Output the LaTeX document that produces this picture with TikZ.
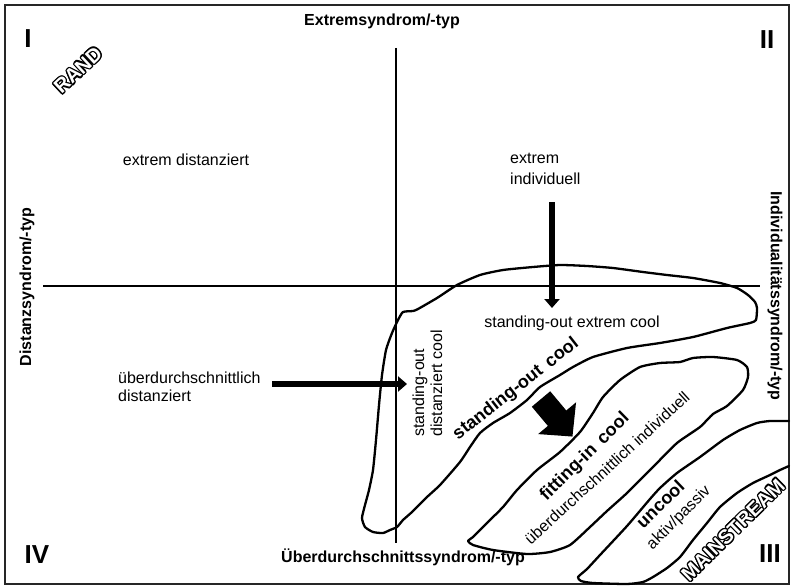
\documentclass[tikz,border=0pt]{standalone}
\usepackage{fontspec}
\setmainfont{Liberation Sans}
\usetikzlibrary{arrows.meta,calc}
\tikzset{
  axislabel/.style={font=\bfseries\fontsize{16}{18}\selectfont, inner sep=0pt},
  plaintext/.style={font=\fontsize{16}{18}\selectfont, inner sep=0pt},
  blobtitle/.style={font=\bfseries\fontsize{18}{20}\selectfont, inner sep=0pt},
  quadlabel/.style={font=\bfseries\fontsize{26}{28}\selectfont, inner sep=0pt},
  outl/.style={font=\bfseries\fontsize{20}{22}\selectfont, inner sep=0pt},
  axisline/.style={line width=1.6pt},
  blobline/.style={line width=2.3pt, line join=round, line cap=round},
  thinarrow/.style={line width=6.5pt, -{Triangle[length=9pt,width=15pt]}},
  fatarrow/.style={line width=24pt, -{Triangle[length=24pt,width=48pt]}},
}
\newcommand\outlinedtext[4]{%
  \foreach \oa in {0,30,...,330}{%
    \node[outl, rotate=#3] (#1c\oa) at ($(#2)+(\oa:1.3pt)$) {#4};
  }%
  \node[outl, rotate=#3, text=white] (#1) at (#2) {#4};
}
\begin{document}
\begin{tikzpicture}[x=1pt,y=-1pt]
\useasboundingbox (0,0) rectangle (792,586);
\draw[line width=2pt, black!85] (5,5) rectangle (789,584);

% axes
\coordinate (vtop) at (396,48);
\coordinate (vbot) at (396,543);
\coordinate (hleft) at (43,286);
\coordinate (hright) at (760,286);
\draw[axisline] (vtop) -- (vbot);
\draw[axisline] (hleft) -- (hright);

% axis labels
\node[axislabel] (ext) at (382,21) {Extremsyndrom/-typ};
\node[axislabel] (ueb) at (403,557) {Überdurchschnittssyndrom/-typ};
\node[axislabel, rotate=90] (dist) at (27,287) {Distanzsyndrom/-typ};
\node[axislabel, rotate=-90] (indiv) at (775,296) {Individualitätssyndrom/-typ};

% quadrant numbers
\node[quadlabel] (q1) at (28,39) {I};
\node[quadlabel] (q2) at (767,40) {II};
\node[quadlabel] (q3) at (770,554) {III};
\node[quadlabel] (q4) at (37,555) {IV};

% blobs
\draw[blobline] plot[smooth cycle, tension=0.35] coordinates {
 (403,312) (413,311) (418,309) (437,298) (457,285) (480,275) (503,270)
 (533,267) (560,265) (587,266) (613,268) (643,272) (667,275) (693,278)
 (720,283) (737,288) (748,295) (755,302) (757,308) (756,320) (750,323)
 (727,328) (693,337) (660,343) (627,348) (593,357) (573,367) (560,375)
 (540,387) (527,400) (510,413) (493,423) (480,433) (470,447) (460,462)
 (440,485) (427,497) (412,512) (403,520) (397,527) (390,530) (383,533)
 (373,532) (365,527) (362,518) (365,505) (369,490) (373,470) (376,440)
 (379,405) (382,375) (386,350) (392,333) (398,320)};
\draw[blobline] plot[smooth cycle, tension=0.35] coordinates {
 (680,362) (693,358) (713,357) (737,360) (747,367) (748,377) (743,390)
 (727,406) (713,414) (700,427) (677,443) (653,467) (627,493) (607,511)
 (590,527) (570,545) (550,552) (527,554) (493,550) (473,545) (468,541)
 (473,537) (487,523) (503,507) (517,490) (537,470) (560,452) (580,432)
 (593,413) (603,397) (620,380) (640,367) (660,363)};
\draw[blobline] plot[smooth, tension=0.35] coordinates {
 (789,421) (770,421) (757,423) (740,430) (723,440) (700,457) (677,473)
 (660,488) (650,499) (627,526) (600,555) (587,569) (578,577) (581,581)
 (593,583) (627,584) (643,582) (653,577) (667,568) (680,557) (693,540)
 (707,523) (720,507) (737,493) (753,483) (770,475) (780,470) (789,466)};

% texts
\node[plaintext] (extdist) at (186,160) {extrem distanziert};
\node[plaintext, anchor=base west] (extind1) at (510,163) {extrem};
\node[plaintext, anchor=base west] (extind2) at (510,184) {individuell};
\node[plaintext, anchor=base west] (uebdist1) at (118,383) {überdurchschnittlich};
\node[plaintext, anchor=base west] (uebdist2) at (118,401) {distanziert};
\node[plaintext, anchor=base west, rotate=90] (sodc1) at (424,437) {standing-out};
\node[plaintext, anchor=base west, rotate=90] (sodc2) at (442,437) {distanziert cool};
\node[plaintext] (soec) at (572,323) {standing-out extrem cool};
\node[blobtitle, rotate=38] (soc) at (516,389) {standing-out\ \,cool};
\node[blobtitle, rotate=44.5] (fic) at (585,457) {fitting-in\ \,cool};
\node[plaintext, rotate=42.5] (uebind) at (607,468) {überdurchschnittlich individuell};
\node[blobtitle, rotate=44] (unc) at (660,504) {uncool};
\node[plaintext, rotate=45] (akt) at (679,518) {aktiv/passiv};

\outlinedtext{rand}{78,70}{43}{RAND}
\outlinedtext{mainstream}{733,530}{44.5}{MAINSTREAM}

% arrows
\coordinate (a1s) at (552,202);
\coordinate (a1e) at (552,308);
\draw[thinarrow] (a1s) -- (a1e);
\coordinate (a2s) at (272,384);
\coordinate (a2e) at (407,384);
\draw[thinarrow] (a2s) -- (a2e);
\coordinate (a3s) at (541,399);
\coordinate (a3e) at (572.5,436.6);
\draw[fatarrow] (a3s) -- (a3e);
\end{tikzpicture}
\end{document}
